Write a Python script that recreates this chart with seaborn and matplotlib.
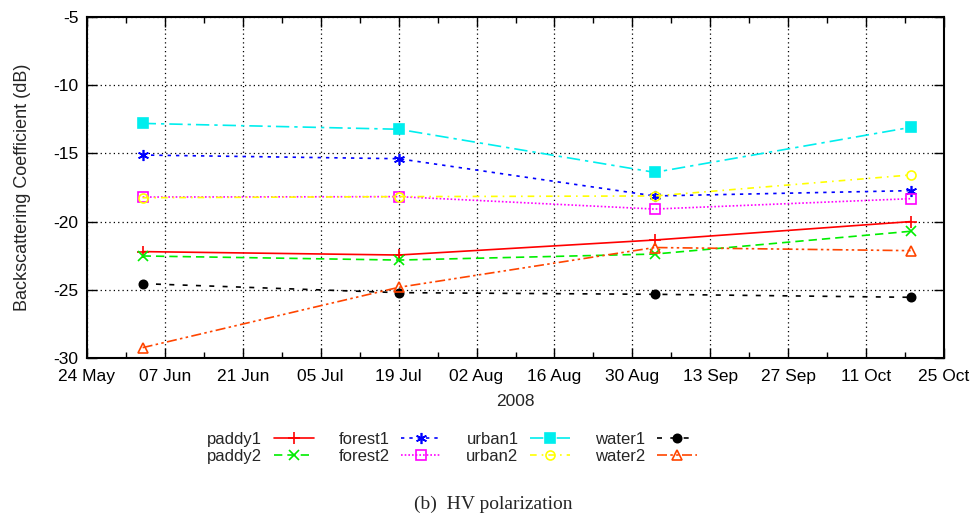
import matplotlib
matplotlib.use("Agg")
import matplotlib.pyplot as plt
import matplotlib.dates as mdates
import matplotlib.ticker as mticker
import seaborn as sns
import pandas as pd

dates = pd.to_datetime(["2008-06-03", "2008-07-19", "2008-09-03", "2008-10-19"])
series_names = ["paddy1", "paddy2", "forest1", "forest2", "urban1", "urban2", "water1", "water2"]
paddy1 = [-22.2, -22.45, -21.35, -20.0]
paddy2 = [-22.52, -22.82, -22.38, -20.71]
forest1 = [-15.12, -15.39, -18.12, -17.73]
forest2 = [-18.2, -18.17, -19.08, -18.32]
urban1 = [-12.8, -13.23, -16.39, -13.09]
urban2 = [-18.25, -18.17, -18.12, -16.58]
water1 = [-24.55, -25.21, -25.33, -25.55]
water2 = [-29.24, -24.82, -21.9, -22.13]
values = [paddy1, paddy2, forest1, forest2, urban1, urban2, water1, water2]

colors = ["#ff0000", "#00ee00", "#0000ff", "#ff00ff", "#00eeee", "#ffff00", "#000000", "#ff4500"]
linestyles = ["-", (0, (5, 3)), (0, (2, 3)), (0, (1, 1.2)), (0, (8, 3, 2, 3)),
              (0, (4, 3, 1, 3)), (0, (3, 5)), (0, (6, 2, 1.5, 2, 1.5, 2))]
markers = ["+", "x", (6, 2, 0), "s", "s", "o", "o", "^"]
filled = [False, False, False, False, True, False, True, False]
msizes = [8, 7, 8, 6.5, 6.5, 6.5, 6, 6.5]

sns.set_style("ticks")
plt.rcParams["font.family"] = ["Liberation Sans", "DejaVu Sans"]

fig = plt.figure(figsize=(9.79, 5.17), dpi=100)
ax = fig.add_axes([87 / 979, 1 - 358 / 517, (944 - 87) / 979, (358 - 17) / 517])

for name, vals, c, ls, m, f, ms in zip(series_names, values, colors, linestyles, markers, filled, msizes):
    df = pd.DataFrame({"date": dates, "value": vals})
    sns.lineplot(data=df, x="date", y="value", ax=ax, label=name, legend=False)
    ln = ax.lines[-1]
    ln.set_color(c)
    ln.set_linestyle(ls)
    ln.set_linewidth(1.2)
    ln.set_marker(m)
    ln.set_markersize(ms)
    ln.set_markeredgecolor(c)
    ln.set_markeredgewidth(1.2)
    ln.set_markerfacecolor(c if f else "none")

start = pd.Timestamp("2008-05-24")
ax.set_xlim(start, pd.Timestamp("2008-10-25"))
ax.set_ylim(-30, -5)
ax.set_yticks([-30, -25, -20, -15, -10, -5])
ax.set_yticklabels(["-30", "-25", "-20", "-15", "-10", "-5"])
ax.xaxis.set_major_locator(mticker.FixedLocator(mdates.date2num(pd.date_range(start, periods=12, freq="14D"))))
ax.xaxis.set_minor_locator(mticker.FixedLocator(mdates.date2num(pd.date_range(start, periods=23, freq="7D"))))
ax.xaxis.set_major_formatter(mdates.DateFormatter("%d %b"))

ax.grid(which="major", linestyle=(0, (1, 2.5)), color="black", linewidth=0.9)
ax.tick_params(which="both", direction="in", top=True, right=True, labelsize=12.5, colors="black")
ax.tick_params(axis="x", which="both", pad=8)
ax.tick_params(axis="y", which="both", pad=6)
ax.tick_params(which="major", length=7, width=1)
ax.tick_params(which="minor", length=4, width=1)
for s in ax.spines.values():
    s.set_linewidth(1.5)
    s.set_color("black")

ax.set_xlabel("2008", fontsize=12.5, labelpad=7)
ax.set_ylabel("Backscattering Coefficient (dB)", fontsize=13, labelpad=16)

handles = ax.lines[:8]
fig.legend(handles, series_names, loc="center", bbox_to_anchor=(452 / 979, 1 - 448 / 517),
           ncol=4, frameon=False, markerfirst=False, fontsize=12, handlelength=2.4,
           handletextpad=0.7, columnspacing=1.5, labelspacing=0.1)

fig.text(493 / 979, 1 - 504 / 517, "(b)  HV polarization", ha="center", va="center",
         fontsize=14, family=["Liberation Serif", "DejaVu Serif"])

fig.savefig("out.png", dpi=100)
